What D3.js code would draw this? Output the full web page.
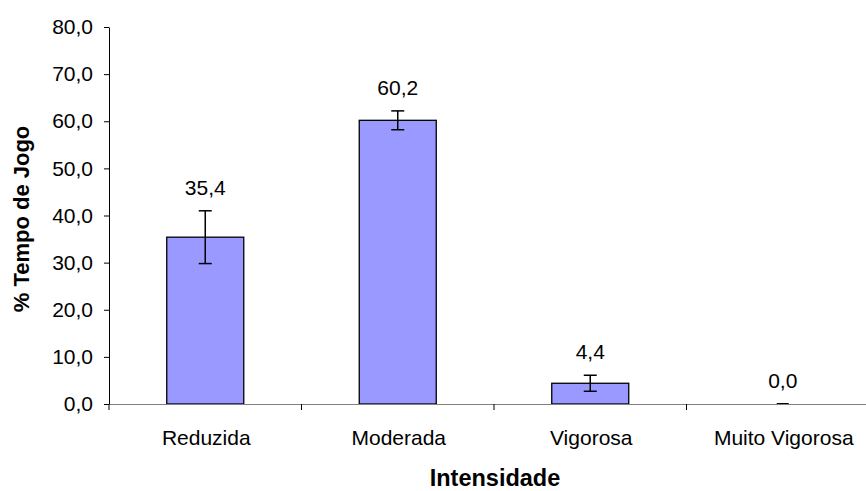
<!DOCTYPE html>
<html><head><meta charset="utf-8">
<script src="https://cdn.jsdelivr.net/npm/d3@7"></script>
<style>body{margin:0;background:#fff}svg{display:block}text{font-family:"Liberation Sans",Arial,sans-serif}</style>
</head><body><svg id="c" width="866" height="491"></svg>
<script>
const categories = ["Reduzida","Moderada","Vigorosa","Muito Vigorosa"];
const values = [35.4, 60.2, 4.4, 0.0];
const errors = [5.6, 2.0, 1.7, 0.0];
const yTicks = [0,10,20,30,40,50,60,70,80];

const svg = d3.select("#c");
const mLeft = 109, mRight = 879, mTop = 27, mBottom = 404;
const fmt = v => v.toFixed(1).replace(".", ",");

const x = d3.scaleBand().domain(categories).range([mLeft, mRight]).paddingInner(0).paddingOuter(0);
const y = d3.scaleLinear().domain([0, 80]).range([mBottom, mTop]);
const bw = x.bandwidth() * 0.4;

// bars
svg.selectAll("rect.bar").data(categories).join("rect")
  .attr("x", d => x(d) + (x.bandwidth() - bw) / 2)
  .attr("y", (d, i) => y(values[i]))
  .attr("width", bw)
  .attr("height", (d, i) => y(0) - y(values[i]))
  .attr("fill", "#9999ff").attr("stroke", "#000").attr("stroke-width", 1.3);

// zero bar mark
svg.selectAll("line.zero").data(categories.filter((d, i) => values[i] === 0)).join("line")
  .attr("x1", d => x(d) + x.bandwidth() / 2 - 6).attr("x2", d => x(d) + x.bandwidth() / 2 + 6)
  .attr("y1", y(0)).attr("y2", y(0)).attr("stroke", "#000").attr("stroke-width", 2);

// x axis
const xa = svg.append("g").attr("transform", `translate(0,${mBottom})`)
  .call(d3.axisBottom(x).tickSize(0).tickFormat(""));
xa.select(".domain").attr("stroke", "#808080").attr("stroke-width", 1.2);
const bounds = categories.map(d => x(d)).concat([mRight]);
svg.selectAll("line.xt").data(bounds).join("line")
  .attr("x1", d => d).attr("x2", d => d).attr("y1", mBottom).attr("y2", mBottom + 6)
  .attr("stroke", "#000");
svg.selectAll("text.cat").data(categories).join("text")
  .attr("x", d => x(d) + x.bandwidth() / 2 + 1).attr("y", 445)
  .attr("text-anchor", "middle").attr("font-size", 21).attr("fill", "#000").text(d => d);

// y axis
const ya = svg.append("g").attr("transform", `translate(${mLeft},0)`)
  .call(d3.axisLeft(y).tickValues(yTicks).tickSize(5).tickSizeOuter(0).tickFormat(fmt));
ya.select(".domain").attr("stroke", "#000");
ya.selectAll(".tick line").attr("stroke", "#000");
ya.selectAll(".tick text").attr("font-size", 21).attr("font-family", "Liberation Sans, Arial, sans-serif")
  .attr("fill", "#000").attr("x", -16);

// error bars
const eb = svg.append("g");
categories.forEach((c, i) => {
  if (errors[i] <= 0) return;
  const cx = x(c) + x.bandwidth() / 2;
  eb.append("line").attr("x1", cx).attr("x2", cx).attr("y1", y(values[i] + errors[i])).attr("y2", y(values[i] - errors[i])).attr("stroke", "#000").attr("stroke-width", 1.5);
  [values[i] + errors[i], values[i] - errors[i]].forEach(v => {
    eb.append("line").attr("x1", cx - 6.5).attr("x2", cx + 6.5).attr("y1", y(v)).attr("y2", y(v)).attr("stroke", "#000").attr("stroke-width", 1.5);
  });
});

// value labels
svg.selectAll("text.val").data(categories).join("text")
  .attr("x", d => x(d) + x.bandwidth() / 2)
  .attr("y", (d, i) => y(values[i] + errors[i]) - 16)
  .attr("text-anchor", "middle").attr("font-size", 21).attr("fill", "#000")
  .text((d, i) => fmt(values[i]));

// axis titles
svg.append("text").attr("x", 495).attr("y", 486).attr("text-anchor", "middle")
  .attr("font-size", 23.5).attr("font-weight", "bold").text("Intensidade");
svg.append("text").attr("transform", "translate(29,219) rotate(-90)").attr("text-anchor", "middle")
  .attr("font-size", 22).attr("font-weight", "bold").text("% Tempo de Jogo");
</script></body></html>
